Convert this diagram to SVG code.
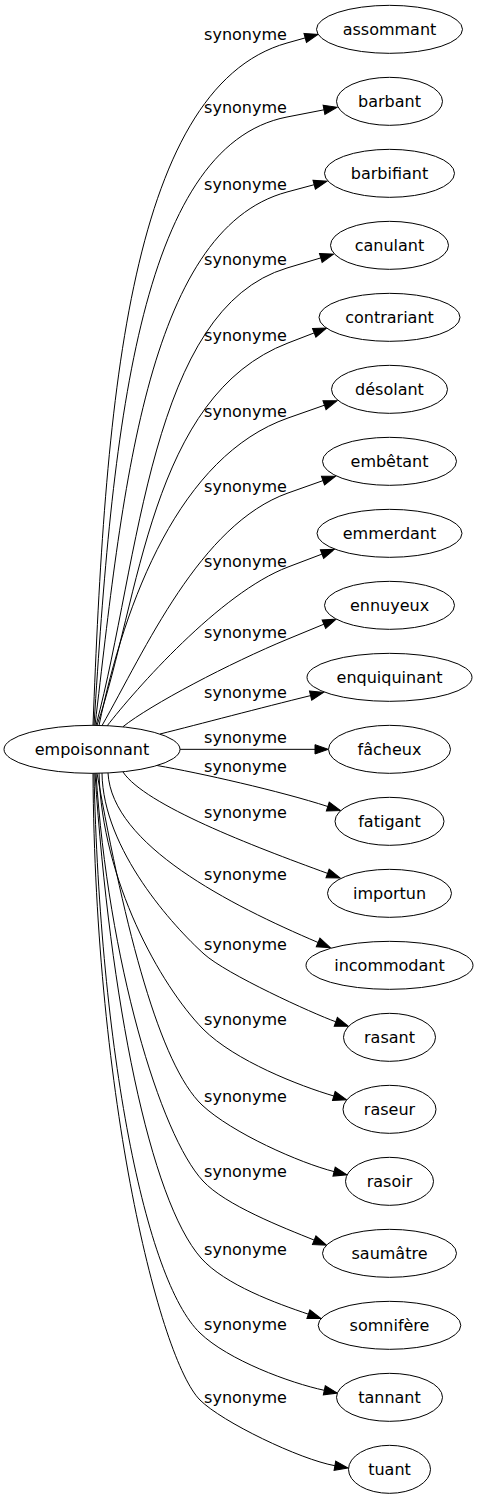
<svg xmlns="http://www.w3.org/2000/svg" width="480" height="1499" viewBox="0 0 480 1499">
<style>
.n ellipse{fill:#fff;stroke:#000;stroke-width:1}
text{font-family:"DejaVu Sans",sans-serif;font-size:16px;fill:#000;text-anchor:middle}
.e path{fill:none;stroke:#000;stroke-width:1;marker-end:url(#arr)}
</style>
<defs>
<marker id="arr" markerWidth="14" markerHeight="10" refX="0" refY="4.67" orient="auto" markerUnits="userSpaceOnUse" overflow="visible">
<path d="M0,0 L13.3,4.67 L0,9.33 z" fill="#000" stroke="#000" stroke-width="1"/>
</marker>
</defs>
<rect width="480" height="1499" fill="#fff"/>
<g id="edges" class="e">
<path d="M93,725.3 C105,420 125,88.4 287,43 L305.2,37.9"/>
<path d="M94,725.3 C112,440 137,146.2 287,117 L324,109.8"/>
<path d="M95,725.3 C122,500 145,230.1 287,192 L314.2,184.7"/>
<path d="M96,725.4 C140,560 150,309 287,268 L320.8,257.9"/>
<path d="M97,725.4 C140,600 150,396 288,343 L314.2,332.9"/>
<path d="M99,725.5 C125,600 180,455.9 288,418 L324.5,405.2"/>
<path d="M102,725.6 C145,650 200,524.2 288,493 L323,480.6"/>
<path d="M107,726 C135,690 220,592.8 288,567 L322,554.1"/>
<path d="M123,726.7 C150,705 230,662.9 288,639 L323.9,624.2"/>
<path d="M160,734 C200,724 260,708 310.6,695.6"/>
<path d="M180,749.33 L315,749.33"/>
<path d="M157,765.5 C200,773 280,791 327.8,806.5"/>
<path d="M123,772 C145,805 252.4,846 327.6,873.4"/>
<path d="M108,773 C112,845 230,905 318.1,942.5"/>
<path d="M102,773 C103,850 174.3,927.2 204,954 C226.3,974.1 312.3,1013.3 335.8,1021.8"/>
<path d="M99,773 C102,880 160,985 203,1029 C235,1061 300,1086 333.8,1096"/>
<path d="M97,773.2 C125,930 160,1065 202,1105 C232,1133 300,1163 334.1,1171.6"/>
<path d="M96,773.2 C108,960 160,1135 203,1181 C225,1205 283,1227.5 314.2,1240.1"/>
<path d="M95,773.3 C110,1000 150,1200 201,1258 C225,1285 277,1303.5 308.4,1314.2"/>
<path d="M94,773.3 C100,1050 145,1280 200,1333 C228,1360 290,1383 324.3,1390.3"/>
<path d="M93,773.3 C95,1100 160,1360 200,1400 C222,1422 300,1459.5 334.9,1465.7"/>
</g>
<g id="edge-labels">
<text x="245.5" y="40">synonyme</text>
<text x="245.5" y="113">synonyme</text>
<text x="245.5" y="190">synonyme</text>
<text x="245.5" y="265">synonyme</text>
<text x="245.5" y="340.7">synonyme</text>
<text x="245.5" y="416.7">synonyme</text>
<text x="245.5" y="491.7">synonyme</text>
<text x="245.5" y="566.7">synonyme</text>
<text x="245.5" y="638">synonyme</text>
<text x="245.5" y="698">synonyme</text>
<text x="245.5" y="743.3">synonyme</text>
<text x="245.5" y="771.7">synonyme</text>
<text x="245.5" y="818.3">synonyme</text>
<text x="245.5" y="880">synonyme</text>
<text x="245.5" y="950">synonyme</text>
<text x="245.5" y="1025">synonyme</text>
<text x="245.5" y="1101.7">synonyme</text>
<text x="245.5" y="1177.3">synonyme</text>
<text x="245.5" y="1255">synonyme</text>
<text x="245.5" y="1330">synonyme</text>
<text x="245.5" y="1403.3">synonyme</text>
</g>
<g id="empoisonnant" class="n"><ellipse cx="92" cy="749.33" rx="88" ry="24"/><text x="92" y="754.8">empoisonnant</text></g>
<g id="assommant" class="n"><ellipse cx="389.5" cy="29.33" rx="73" ry="24"/><text x="389.5" y="34.8">assommant</text></g>
<g id="barbant" class="n"><ellipse cx="389.5" cy="101.33" rx="53" ry="24"/><text x="389.5" y="106.8">barbant</text></g>
<g id="barbifiant" class="n"><ellipse cx="389.5" cy="173.33" rx="65" ry="24"/><text x="389.5" y="178.8">barbifiant</text></g>
<g id="canulant" class="n"><ellipse cx="389.5" cy="245.33" rx="59" ry="24"/><text x="389.5" y="250.8">canulant</text></g>
<g id="contrariant" class="n"><ellipse cx="389.5" cy="317.33" rx="70.5" ry="24"/><text x="389.5" y="322.8">contrariant</text></g>
<g id="desolant" class="n"><ellipse cx="389.5" cy="389.33" rx="58" ry="24"/><text x="389.5" y="394.8">désolant</text></g>
<g id="embetant" class="n"><ellipse cx="389.5" cy="461.33" rx="67" ry="24"/><text x="389.5" y="466.8">embêtant</text></g>
<g id="emmerdant" class="n"><ellipse cx="389.5" cy="533.33" rx="72.5" ry="24"/><text x="389.5" y="538.8">emmerdant</text></g>
<g id="ennuyeux" class="n"><ellipse cx="389.5" cy="605.33" rx="65" ry="24"/><text x="389.5" y="610.8">ennuyeux</text></g>
<g id="enquiquinant" class="n"><ellipse cx="389.5" cy="677.33" rx="82.5" ry="24"/><text x="389.5" y="682.8">enquiquinant</text></g>
<g id="facheux" class="n"><ellipse cx="389.5" cy="749.33" rx="61" ry="24"/><text x="389.5" y="754.8">fâcheux</text></g>
<g id="fatigant" class="n"><ellipse cx="389.5" cy="821.33" rx="54.5" ry="24"/><text x="389.5" y="826.8">fatigant</text></g>
<g id="importun" class="n"><ellipse cx="389.5" cy="893.33" rx="62" ry="24"/><text x="389.5" y="898.8">importun</text></g>
<g id="incommodant" class="n"><ellipse cx="389.5" cy="965.33" rx="83.5" ry="24"/><text x="389.5" y="970.8">incommodant</text></g>
<g id="rasant" class="n"><ellipse cx="389.5" cy="1037.33" rx="46" ry="24"/><text x="389.5" y="1042.8">rasant</text></g>
<g id="raseur" class="n"><ellipse cx="389.5" cy="1109.33" rx="46.5" ry="24"/><text x="389.5" y="1114.8">raseur</text></g>
<g id="rasoir" class="n"><ellipse cx="389.5" cy="1181.33" rx="44" ry="24"/><text x="389.5" y="1186.8">rasoir</text></g>
<g id="saumatre" class="n"><ellipse cx="389.5" cy="1253.33" rx="67" ry="24"/><text x="389.5" y="1258.8">saumâtre</text></g>
<g id="somnifere" class="n"><ellipse cx="389.5" cy="1325.33" rx="71.3" ry="24"/><text x="389.5" y="1330.8">somnifère</text></g>
<g id="tannant" class="n"><ellipse cx="389.5" cy="1397.33" rx="53" ry="24"/><text x="389.5" y="1402.8">tannant</text></g>
<g id="tuant" class="n"><ellipse cx="389.5" cy="1469.33" rx="41" ry="24"/><text x="389.5" y="1474.8">tuant</text></g>
</svg>
